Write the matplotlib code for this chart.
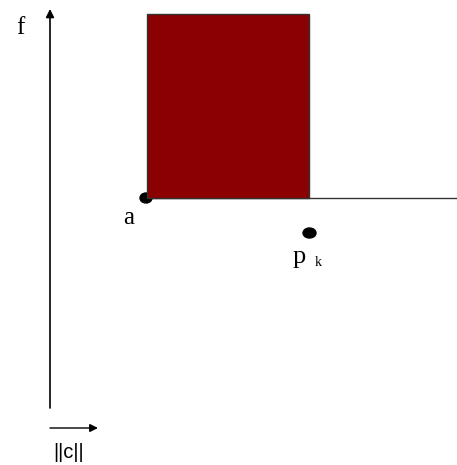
import matplotlib
matplotlib.use("Agg")
import matplotlib.pyplot as plt
from matplotlib.patches import Rectangle, Ellipse

# diagram in pixel-like units, y grows downward
width, height = 457, 465

axis_origin = (50, 408)
f_axis_top = 9
c_arrow = (50, 98, 428)          # x0, x1, y

box = (147, 14, 309, 198)        # left, top, right, bottom
front_line = (147, 457, 198)     # x0, x1, y

points = {"a": (146, 198), "p": (309.5, 233)}
labels = {"f": (20, 34), "a": (129, 224), "p": (299, 263), "k": (318, 266), "c": (69, 458)}

fig = plt.figure(figsize=(width / 100, height / 100), dpi=100)
ax = fig.add_axes([0, 0, 1, 1])
ax.set_xlim(0, width)
ax.set_ylim(height, 0)
ax.axis("off")

# f axis and ||c|| arrow
ax.annotate("", xy=(axis_origin[0], f_axis_top), xytext=axis_origin,
            arrowprops=dict(arrowstyle="-|>", color="black", lw=1.2, mutation_scale=12,
                            shrinkA=0, shrinkB=0))
ax.annotate("", xy=(c_arrow[1], c_arrow[2]), xytext=(c_arrow[0], c_arrow[2]),
            arrowprops=dict(arrowstyle="-|>", color="black", lw=1.0, mutation_scale=12,
                            shrinkA=0, shrinkB=0))

# dominated region and front
ax.plot([front_line[0], front_line[1]], [front_line[2], front_line[2]], color="#333333", lw=1.0, zorder=2)
ax.add_patch(Ellipse(points["a"], 12, 10, color="black", zorder=2))
ax.add_patch(Rectangle((box[0], box[1]), box[2] - box[0], box[3] - box[1],
                       facecolor="#8b0000", edgecolor="#333333", lw=1.0, zorder=3))
ax.add_patch(Ellipse(points["p"], 13, 10, color="black", zorder=3))

serif = "Liberation Serif"
ax.text(*labels["f"], "f", family=serif, fontsize=18, ha="center", va="baseline")
ax.text(*labels["a"], "a", family=serif, fontsize=18, ha="center", va="baseline")
ax.text(*labels["p"], "p", family=serif, fontsize=19, ha="center", va="baseline")
ax.text(*labels["k"], "k", family=serif, fontsize=10, ha="center", va="baseline")
ax.text(*labels["c"], "||c||", family="Liberation Sans", fontsize=14.5, ha="center", va="baseline")

fig.savefig("out.png", dpi=100)
